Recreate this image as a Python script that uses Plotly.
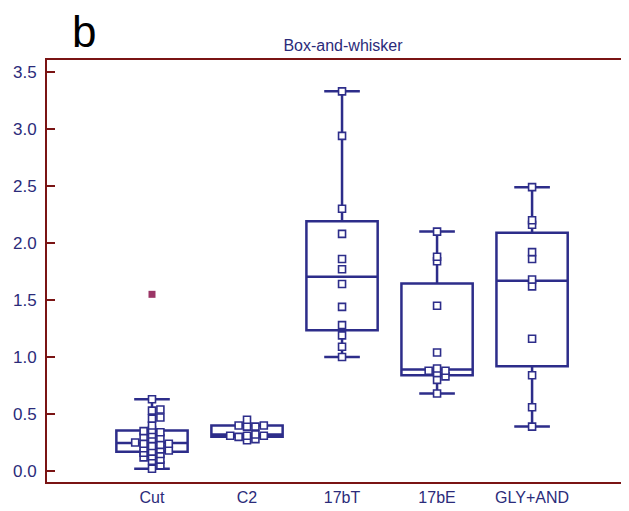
import plotly.graph_objects as go

categories = ["Cut", "C2", "17bT", "17bE", "GLY+AND"]

cut_vals = [0.63, 0.54, 0.53, 0.47, 0.46, 0.40, 0.36, 0.35, 0.34, 0.32, 0.30, 0.29,
            0.28, 0.25, 0.24, 0.24, 0.23, 0.22, 0.20, 0.19, 0.18, 0.17, 0.16, 0.15,
            0.13, 0.12, 0.10, 0.09, 0.05, 0.02]
c2_vals = [0.45, 0.40, 0.40, 0.39, 0.39, 0.32, 0.31, 0.31, 0.31, 0.30, 0.28, 0.27]
t17b_vals = [3.33, 2.94, 2.30, 2.08, 1.86, 1.77, 1.64, 1.44, 1.28, 1.19, 1.09, 1.00]
e17b_vals = [2.10, 1.88, 1.84, 1.45, 1.04, 0.90, 0.88, 0.88, 0.86, 0.83, 0.80, 0.68]
gly_vals = [2.49, 2.20, 2.16, 1.92, 1.86, 1.68, 1.62, 1.16, 0.84, 0.56, 0.39]
group_vals = [cut_vals, c2_vals, t17b_vals, e17b_vals, gly_vals]

q1 = [0.17, 0.30, 1.235, 0.84, 0.92]
median = [0.245, 0.32, 1.705, 0.89, 1.67]
q3 = [0.355, 0.40, 2.19, 1.645, 2.09]
lower_whisker = [0.02, 0.30, 1.00, 0.68, 0.39]
upper_whisker = [0.63, 0.40, 3.33, 2.10, 2.49]

outlier_group = ["Cut"]
outlier_vals = [1.55]

NAVY = "#2d2d8a"
MAROON = "#7a1414"
TEXT = "#2b2b7a"

# page body adds an 8px margin, so the figure is 8px smaller and shifted
W, H = 621, 503
ML, MR, MT, MB = 39, 0, 52, 29
XR = [-1.105, 5.02]
YR = [-0.096, 3.605]
px_x = (W - ML - MR) / (XR[1] - XR[0])
px_y = (H - MT - MB) / (YR[1] - YR[0])


def swarm(vals, center, dx=8.4, dy=4.5):
    placed = []
    xs = []
    for v in vals:
        y = v * px_y
        k = 0
        while True:
            idx = (k + 1) // 2
            sign = 1 if k % 2 == 1 else -1
            off = 0.0 if k == 0 else sign * idx * dx
            ok = all(not (abs(off - px) < dx - 0.01 and abs(y - py) < dy) for px, py in placed)
            if ok:
                break
            k += 1
        placed.append((off, y))
        xs.append(center + off / px_x)
    return xs


fig = go.Figure()
positions = list(range(len(categories)))

fig.add_trace(go.Box(
    x=positions, q1=q1, median=median, q3=q3,
    lowerfence=lower_whisker, upperfence=upper_whisker,
    boxpoints=False, width=0.75, whiskerwidth=0.5,
    line=dict(color=NAVY, width=2.5), fillcolor="rgba(0,0,0,0)",
    showlegend=False, hoverinfo="skip",
))

for i, vals in enumerate(group_vals):
    xs = swarm(sorted(vals), positions[i])
    fig.add_trace(go.Scatter(
        x=xs, y=sorted(vals), mode="markers",
        marker=dict(symbol="square", size=7, color="white",
                    line=dict(color=NAVY, width=1.6)),
        showlegend=False,
    ))

fig.add_trace(go.Scatter(
    x=[categories.index(g) for g in outlier_group], y=outlier_vals, mode="markers",
    marker=dict(symbol="square", size=7, color="#9b3566", line=dict(width=0)),
    showlegend=False,
))

fig.update_layout(
    width=W, height=H,
    margin=dict(l=ML, r=MR, t=MT, b=MB, autoexpand=False),
    paper_bgcolor="white", plot_bgcolor="white",
    font=dict(family="Liberation Sans, Arial, sans-serif", color=TEXT, size=17),
    title=dict(text="Box-and-whisker", x=335 / W, y=1 - 37 / H, xanchor="center",
               yanchor="middle", font=dict(size=16, color=TEXT)),
    xaxis=dict(range=XR, tickmode="array", tickvals=positions, ticktext=categories,
               showline=True, linecolor=MAROON, linewidth=2, mirror=True,
               ticks="", showgrid=False, zeroline=False, automargin=False,
               tickfont=dict(size=16, color=TEXT), ticklabelstandoff=0),
    yaxis=dict(range=YR, tickmode="array", tickvals=[0, 0.5, 1, 1.5, 2, 2.5, 3, 3.5],
               ticktext=["0.0", "0.5", "1.0", "1.5", "2.0", "2.5", "3.0", "3.5"],
               showline=True, linecolor=MAROON, linewidth=2, automargin=False,
               ticks="inside", ticklen=8, tickwidth=2, tickcolor=MAROON,
               showgrid=False, zeroline=False,
               tickfont=dict(size=17, color=TEXT), ticklabelstandoff=5),
    annotations=[dict(text="b", xref="paper", yref="paper",
                      x=(76 - ML) / (W - ML - MR), y=(H - MB - 24) / (H - MT - MB),
                      xanchor="center", yanchor="middle", showarrow=False,
                      font=dict(size=44, color="black"))],
)

fig.write_html("out.html")
